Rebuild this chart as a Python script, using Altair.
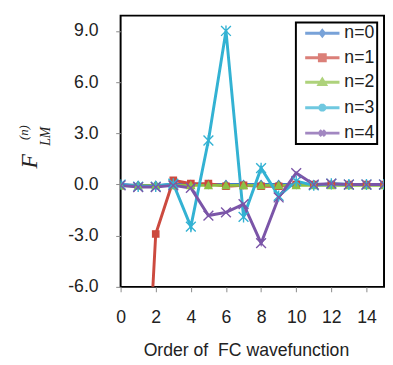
import altair as alt
import pandas as pd

# ---- data ----
x_vals = list(range(16))
series_names = ["n=0", "n=1", "n=2", "n=3", "n=4"]
n0 = [0.0, -0.05, -0.05, 0.0, 0.0, 0.0, 0.0, 0.0, 0.0, 0.0, 0.0, 0.0, 0.0, 0.0, 0.0, 0.0]
n1 = [-45.0, -22.0, -2.9, 0.25, 0.05, 0.05, -0.1, -0.05, -0.1, -0.1, 0.0, 0.0, 0.0, 0.0, 0.0, 0.0]
n2 = [-0.08, -0.08, -0.05, -0.05, -0.05, -0.05, -0.05, -0.05, -0.05, -0.05, -0.05, -0.05, -0.05, -0.05, -0.05, -0.05]
n3 = [0.0, -0.12, -0.12, 0.05, -2.47, 2.58, 9.0, -1.9, 0.96, -0.67, 0.2, -0.05, 0.05, 0.0, 0.0, 0.0]
n4 = [-0.05, -0.15, -0.15, -0.05, -0.2, -1.82, -1.63, -1.15, -3.44, -0.76, 0.67, 0.0, 0.05, 0.0, 0.0, 0.0]
x_ticks = [0, 2, 4, 6, 8, 10, 12, 14]
y_ticks = [-6, -3, 0, 3, 6, 9]
x_title = "Order of\u00a0 FC wavefunction"
y_title_main = ["F"]
y_title_sub = ["LM"]
y_title_sup = ["(n)"]

colors = ["#3F7BC8", "#CC4A3F", "#8DC044", "#33B2D3", "#7B55A8"]

plot_shapes = [
    "M-0.8,0L0,-1L0.8,0L0,1Z",
    "M-0.8,-0.8H0.8V0.8H-0.8Z",
    "M-0.9,0.8L0,-0.9L0.9,0.8Z",
    "M-1.25,-1.25L1.25,1.25M-1.25,1.25L1.25,-1.25M0,-1.4V1.4",
    "M-1.25,-1.25L1.25,1.25M-1.25,1.25L1.25,-1.25",
]
L = "M0,0H11.67"
legend_shapes = [
    L + "M5.13,0L5.83,-0.9L6.53,0L5.83,0.9Z",
    L + "M4.83,-1H6.83V1H4.83ZM5.43,-0.4H6.23V0.4H5.43Z",
    L + "M4.73,0.8L5.83,-1L6.93,0.8Z",
    L + "M4.93,-1L6.73,1M4.93,1L6.73,-1M5.83,-1.3V1.3",
    L + "M4.93,-1L6.73,1M4.93,1L6.73,-1",
]

rows = []
for name, vals in zip(series_names, [n0, n1, n2, n3, n4]):
    for xi, v in zip(x_vals, vals):
        rows.append({"x": xi, "y": v, "series": name})
df = pd.DataFrame(rows)

xscale = alt.Scale(domain=[0, 15], nice=False, zero=False)
yscale = alt.Scale(domain=[-6, 9.9], nice=False, zero=False)
cscale = alt.Scale(domain=series_names, range=colors)

xaxis = alt.Axis(values=x_ticks, title=x_title, labelPadding=17,
                 labelOverlap=False, labelFlush=False, labelBound=False,
                 titleFontSize=18, titleFont="Liberation Sans", titleFontWeight="normal",
                 titleColor="#222", titleBaseline="alphabetic", titleY=70, titleX=128,
                 titleAlign="center")
yaxis = alt.Axis(values=y_ticks, format=".1f", title=None, labelPadding=18,
                 labelOverlap=False, labelFlush=False,
                 labelExpr="replace(datum.label, '\u2212', '-')")


def xenc():
    return alt.X("x:Q", scale=xscale, axis=xaxis)


def yenc():
    return alt.Y("y:Q", scale=yscale, axis=yaxis)


lines = alt.Chart(df).mark_line(strokeWidth=3, clip=True).encode(
    x=xenc(), y=yenc(),
    color=alt.Color("series:N", scale=cscale, legend=None),
    order="x:Q",
)

points = alt.Chart(df).mark_point(filled=True, size=64, strokeWidth=1.4, opacity=1, clip=True).encode(
    x=xenc(), y=yenc(),
    color=alt.Color("series:N", scale=cscale, legend=None),
    stroke=alt.Stroke("series:N", scale=cscale, legend=None),
    shape=alt.Shape("series:N", scale=alt.Scale(domain=series_names, range=plot_shapes), legend=None),
)

nb = "\u00a0\u00a0"
legend_layer = alt.Chart(df).transform_filter("false").mark_point(filled=False).encode(
    x=xenc(), y=yenc(),
    color=alt.Color("series:N", scale=cscale, legend=alt.Legend(
        orient="none", legendX=179, legendY=7, title=None,
        strokeColor="black", fillColor="white", padding=2, rowPadding=7,
        symbolSize=36, symbolStrokeWidth=3, symbolOffset=-1.5, labelOffset=31,
        labelFontSize=18, labelFont="Liberation Sans", labelColor="#222",
        labelExpr="datum.label + '" + nb + "'",
    )),
    shape=alt.Shape("series:N", scale=alt.Scale(domain=series_names, range=legend_shapes)),
)

t_main = alt.Chart(pd.DataFrame({"t": y_title_main})).mark_text(
    angle=270, align="left", baseline="alphabetic", font="Liberation Serif",
    fontStyle="italic", fontSize=24, color="#222",
).encode(x=alt.value(-85), y=alt.value(156), text="t:N")
t_sub = alt.Chart(pd.DataFrame({"t": y_title_sub})).mark_text(
    angle=270, align="left", baseline="alphabetic", font="Liberation Serif",
    fontStyle="italic", fontSize=14, color="#222",
).encode(x=alt.value(-72), y=alt.value(133), text="t:N")
t_sup = alt.Chart(pd.DataFrame({"t": y_title_sup})).mark_text(
    angle=270, align="left", baseline="alphabetic", font="Liberation Serif",
    fontStyle="italic", fontSize=13, color="#222",
).encode(x=alt.value(-95), y=alt.value(127), text="t:N")

chart = alt.layer(lines, points, legend_layer, t_main, t_sub, t_sup).resolve_scale(
    color="independent", shape="independent"
).properties(
    width=269, height=277,
    padding={"left": 115, "top": 4, "right": 1, "bottom": 76},
    autosize=alt.AutoSizeParams(type="none"),
    background="white",
).configure_view(
    stroke="black", strokeWidth=2
).configure_axis(
    domain=False, grid=False, labelFont="Liberation Sans", labelFontSize=18,
    labelColor="#222", tickColor="#888", tickSize=5, tickWidth=1, labelOverlap=False,
).configure_legend(strokeWidth=2)

chart.save("out.html", embed_options={"renderer": "svg", "actions": False})
